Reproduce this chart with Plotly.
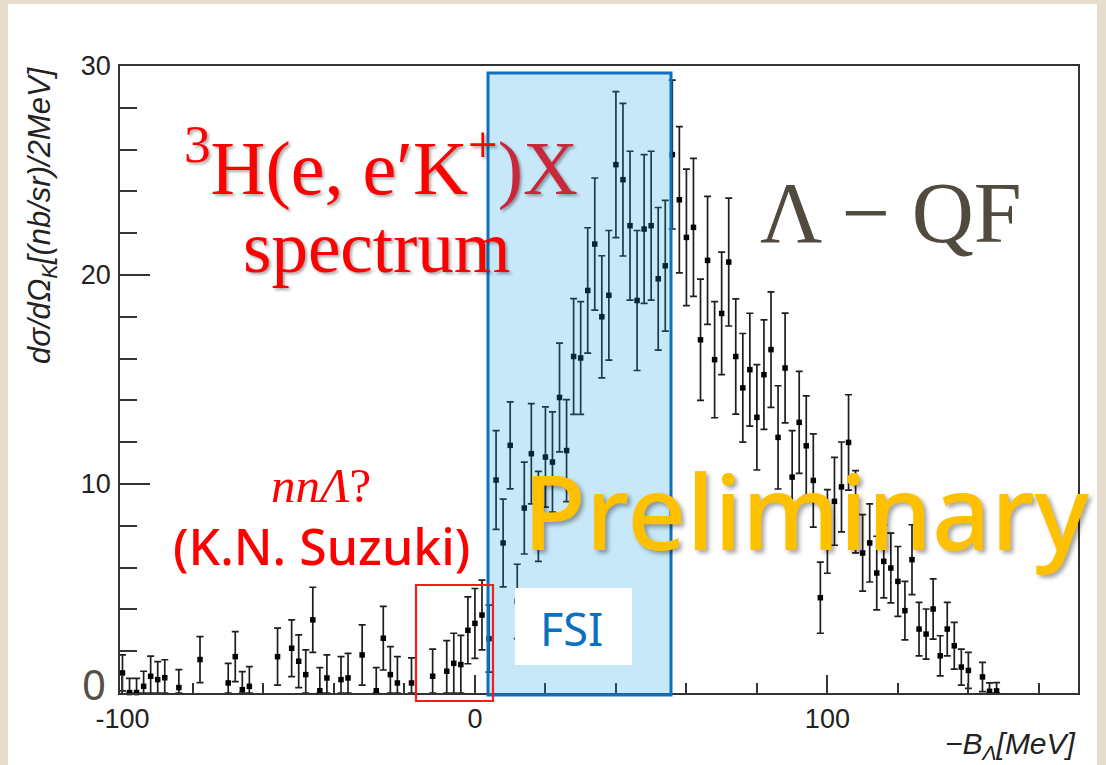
import plotly.graph_objects as go

# ---------------- data ----------------
bin_center = [-100, -98, -96, -94, -92, -90, -88, -84, -78, -70, -68, -66, -64,
              -56, -52, -50, -48, -46, -44, -42, -38, -36, -32, -28, -26, -24,
              -22, -18, -12, -8, -6, -4, -2, 0, 2, 4, 6, 8, 10, 12, 14, 16, 18,
              20, 22, 24, 26, 28, 30, 32, 34, 36, 38, 40, 42, 44, 46, 48, 50,
              52, 54, 56, 58, 60, 62, 64, 66, 68, 70, 72, 74, 76, 78, 80, 82,
              84, 86, 88, 90, 92, 94, 96, 98, 100, 102, 104, 106, 108, 110,
              112, 114, 116, 118, 120, 122, 124, 126, 128, 130, 132, 134, 136,
              138, 140, 144, 146, 148]

xsec = [0.96, 0.02, 0.02, 0.32, 0.80, 0.64, 0.73, 0.26, 1.60, 0.48, 1.74, 0.16,
        0.32, 1.74, 2.14, 1.52, 0.88, 3.50, 0.11, 0.72, 0.64, 0.72, 1.82, 0.11,
        2.62, 0.88, 0.48, 0.48, 0.80, 1.04, 1.42, 1.36, 3.00, 3.33, 3.73, 2.60,
        10.19, 7.18, 11.85, 4.38, 8.85, 11.45, 8.45, 11.29, 11.05, 14.14, 11.60,
        16.10, 16.03, 19.26, 21.48, 18.00, 19.03, 25.28, 24.56, 22.36, 18.78,
        22.20, 22.36, 19.82, 20.44, 25.76, 23.60, 21.80, 22.28, 16.90, 20.70,
        15.95, 18.16, 20.62, 16.10, 14.60, 15.47, 13.19, 15.23, 16.43, 12.23,
        15.55, 10.33, 12.95, 11.83, 10.17, 4.56, 7.73, 9.17, 9.86, 11.99, 8.67,
        6.70, 7.18, 5.74, 6.30, 5.98, 5.34, 3.94, 6.38, 3.06, 2.82, 4.02, 1.78,
        3.06, 2.26, 1.24, 1.08, 0.77, 0.08, 0.10]

xsec_err = [0.86, 0.68, 0.68, 0.72, 0.96, 0.86, 0.86, 0.86, 1.10, 0.94, 1.20,
            0.86, 0.94, 1.36, 1.36, 1.26, 1.18, 1.56, 1.10, 1.10, 1.10, 1.18,
            1.44, 1.10, 1.52, 1.34, 1.26, 1.20, 1.30, 1.47, 1.44, 1.40, 1.60,
            1.67, 1.67, 1.60, 2.36, 2.10, 2.08, 1.78, 2.20, 2.40, 2.15, 2.40,
            2.40, 2.60, 2.44, 2.77, 2.70, 3.00, 3.16, 2.92, 3.10, 3.49, 3.65,
            3.56, 3.35, 3.56, 3.56, 3.41, 3.13, 3.56, 3.50, 3.27, 3.30, 2.90,
            3.06, 2.78, 2.93, 3.06, 2.76, 2.60, 2.70, 2.52, 2.62, 2.76, 2.47,
            2.63, 2.22, 2.44, 2.39, 2.23, 1.70, 2.00, 2.10, 2.15, 2.28, 1.97,
            1.83, 1.87, 1.76, 1.75, 1.67, 1.67, 1.40, 1.67, 1.28, 1.20, 1.44,
            0.96, 1.28, 1.12, 0.86, 0.86, 0.70, 0.40, 0.40]

x_tick_vals = [-100, 0, 100]
x_tick_text = ["-100", "0", "100"]
y_tick_vals = [0, 10, 20, 30]
y_tick_text = ["", "10", "20", "30"]

# ---------------- geometry helpers (pixel -> paper) ----------------
W, H = 1106, 765
L, R, T, B = 120, 1078, 66, 693
PW, PH = R - L, B - T


def px(x):
    return (x - L) / PW


def py(y):
    return (B - y) / PH


err_minus = [min(e, v) for e, v in zip(xsec_err, xsec)]

fig = go.Figure()
fig.add_trace(go.Scatter(
    x=bin_center, y=xsec, mode="markers",
    marker=dict(symbol="square", size=5.5, color="black"),
    error_y=dict(type="data", array=xsec_err, arrayminus=err_minus,
                 symmetric=False, color="#1e1e1e", thickness=1.7, width=3.5),
    cliponaxis=False, showlegend=False, hoverinfo="skip"))

axis_common = dict(showline=True, linecolor="#333333", linewidth=1.5,
                   mirror=True, showgrid=False, zeroline=False,
                   ticks="inside", tickcolor="#333333", tickwidth=1.5,
                   tickfont=dict(family="Liberation Sans", size=27,
                                 color="#222222"))

fig.update_xaxes(range=[-100.7, 171.1], tickmode="array",
                 tickvals=x_tick_vals, ticktext=x_tick_text, ticklen=18,
                 ticklabelstandoff=1,
                 minor=dict(tickmode="linear", tick0=0, dtick=20, ticklen=10,
                            ticks="inside", tickcolor="#333333",
                            tickwidth=1.5),
                 **axis_common)
fig.update_yaxes(range=[0, 30], tickmode="array", tickvals=y_tick_vals,
                 ticktext=y_tick_text, ticklen=30, ticklabelstandoff=2,
                 minor=dict(tickmode="linear", tick0=0, dtick=2, ticklen=17,
                            ticks="inside", tickcolor="#333333",
                            tickwidth=1.5),
                 **axis_common)

shapes = [
    # page (white card on beige paper)
    dict(type="rect", xref="paper", yref="paper", x0=px(8), x1=px(1097),
         y0=py(4), y1=py(770), fillcolor="white", line=dict(width=0),
         layer="below"),
    # FSI region (translucent blue, above the data)
    dict(type="rect", xref="paper", yref="paper", x0=px(488), x1=px(671),
         y0=py(695), y1=py(73), fillcolor="rgba(20,160,232,0.24)",
         line=dict(color="#1070c0", width=3), layer="above"),
    # white FSI label box
    dict(type="rect", xref="paper", yref="paper", x0=px(515), x1=px(632),
         y0=py(665), y1=py(588), fillcolor="white", line=dict(width=0),
         layer="above"),
    # red nnLambda box
    dict(type="rect", xref="paper", yref="paper", x0=px(416), x1=px(493),
         y0=py(701), y1=py(585), fillcolor="rgba(0,0,0,0)",
         line=dict(color="#ff1a1a", width=2.2), layer="above"),
]

shadow = "2px 2px 3px rgba(0,0,0,0.35)"
ann = []
ann.append(dict(x=px(381), y=py(163),
                text="<sup>3</sup>H(e, e′K<sup>+</sup><span style='color:#c9283a'>)X</span>",
                font=dict(family="Liberation Serif", size=76, color="#ff0000",
                          shadow=shadow)))
ann.append(dict(x=px(377), y=py(247), text="spectrum",
                font=dict(family="Liberation Serif", size=73, color="#ff0000",
                          shadow=shadow)))
ann.append(dict(x=px(891), y=py(213), text="Λ − QF",
                font=dict(family="Liberation Serif", size=86, color="#514a3e")))
ann.append(dict(x=px(321), y=py(485), text="<i>nnΛ</i>?",
                font=dict(family="Liberation Serif", size=49, color="#ff0000")))
ann.append(dict(x=px(321), y=py(546), text="(K.N. Suzuki)",
                font=dict(family="Noto Sans", size=50, color="#ff0000",
                          weight=500)))
ann.append(dict(x=px(806), y=py(510), text="Preliminary",
                font=dict(family="Noto Sans", size=103, color="#ffc000",
                          weight=500, shadow="3px 3px 4px rgba(0,0,0,0.35)")))
ann.append(dict(x=px(571), y=py(628), text="FSI",
                font=dict(family="Noto Sans", size=45, color="#0a70c0")))
ann.append(dict(x=px(94), y=py(683), text="0",
                font=dict(family="Noto Sans", size=42, color="#555046")))
ann.append(dict(x=px(42), y=py(64), yanchor="top", textangle=-90,
                text="<i>dσ/dΩ<sub>K</sub>[(nb/sr)/2MeV]</i>",
                font=dict(family="Liberation Sans", size=31, color="#222222")))
ann.append(dict(x=px(1078), y=py(745), xanchor="right",
                text="<i>−B<sub>Λ</sub>[MeV]</i>",
                font=dict(family="Liberation Sans", size=30, color="#222222")))

for a in ann:
    a.setdefault("xanchor", "center")
    a.setdefault("yanchor", "middle")
    a.update(xref="paper", yref="paper", showarrow=False)

fig.update_layout(width=W, height=H,
                  margin=dict(l=L, r=W - R, t=T, b=H - B),
                  paper_bgcolor="#e6ddcc", plot_bgcolor="white",
                  shapes=shapes, annotations=ann)

fig.write_html("out.html")
